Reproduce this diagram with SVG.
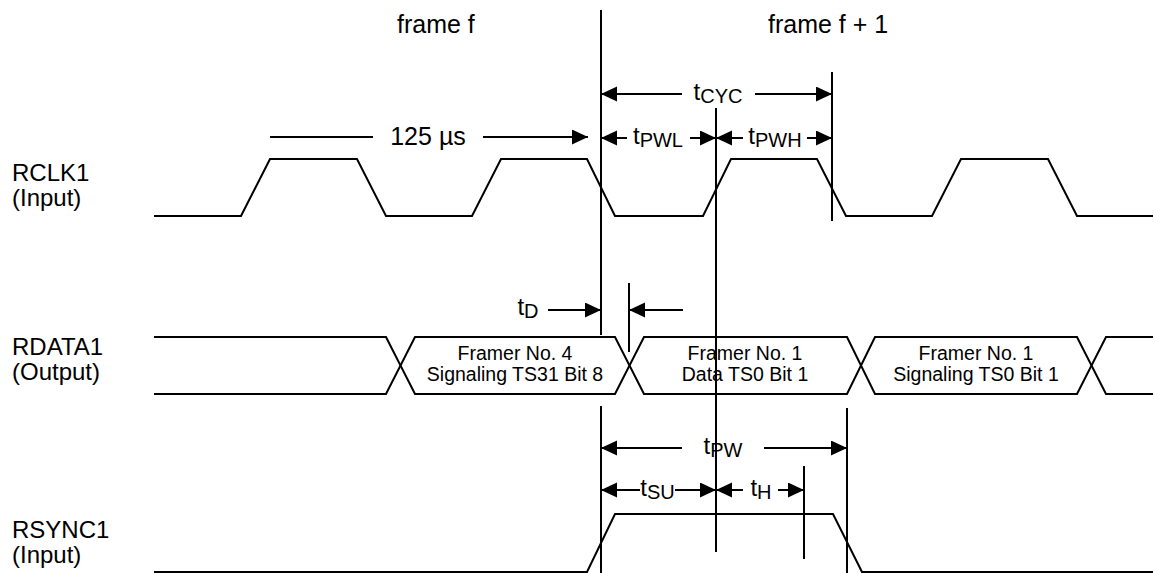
<svg xmlns="http://www.w3.org/2000/svg" width="1155" height="573" viewBox="0 0 1155 573">
<style>
text{font-family:"Liberation Sans",Arial,Helvetica,sans-serif;fill:#000}
.lbl{font-size:24px}
.hdr{font-size:25px}
.box{font-size:19.5px;text-anchor:middle}
.t{font-size:24px;text-anchor:middle}
.sub{font-size:20px}
.w{fill:none;stroke:#000;stroke-width:2;stroke-linejoin:miter}
.v{stroke:#000;stroke-width:2}
.a{stroke:#000;stroke-width:2;marker-end:url(#ah)}
</style>
<defs>
<marker id="ah" markerUnits="userSpaceOnUse" markerWidth="17" markerHeight="16" refX="16" refY="7.5" orient="auto">
<path d="M0,0 L16,7.5 L0,15 Z" fill="#000"/>
</marker>
</defs>
<rect width="1155" height="573" fill="#fff"/>
<g id="header">
<text class="hdr" x="397" y="33">frame f</text>
<text class="hdr" x="768" y="33">frame f + 1</text>
</g>
<g id="rclk1">
<text class="lbl" x="12" y="181">RCLK1</text>
<text class="lbl" x="12" y="206">(Input)</text>
<path class="w" d="M154,216 L241,216 L270,159 L357,159 L386,216 L472,216 L501,159 L587,159 L615,216 L703,216 L731,159 L817,159 L846,216 L932,216 L961,159 L1048,159 L1077,216 L1153,216"/>
</g>
<g id="rdata1">
<text class="lbl" x="12" y="355">RDATA1</text>
<text class="lbl" x="12" y="380">(Output)</text>
<path class="w" d="M154,337 L386,337 L400.5,365.5 L386,394 L154,394"/>
<path class="w" d="M415,337 L615,337 L629.5,365.5 L615,394 L415,394 L400.5,365.5 Z"/>
<path class="w" d="M644,337 L847,337 L861,365.5 L847,394 L644,394 L629.5,365.5 Z"/>
<path class="w" d="M875,337 L1077,337 L1091.5,365.5 L1077,394 L875,394 L861,365.5 Z"/>
<path class="w" d="M1153,337 L1106,337 L1091.5,365.5 L1106,394 L1153,394"/>
<text class="box" x="515" y="360">Framer No. 4</text>
<text class="box" x="515" y="381">Signaling TS31 Bit 8</text>
<text class="box" x="745" y="360">Framer No. 1</text>
<text class="box" x="745" y="381">Data TS0 Bit 1</text>
<text class="box" x="976" y="360">Framer No. 1</text>
<text class="box" x="976" y="381">Signaling TS0 Bit 1</text>
</g>
<g id="rsync1">
<text class="lbl" x="12" y="538">RSYNC1</text>
<text class="lbl" x="12" y="563">(Input)</text>
<path class="w" d="M154,572 L587,572 L615,514 L833,514 L862,572 L1153,572"/>
</g>
<g id="connectors">
<line class="v" x1="601" y1="10" x2="601" y2="335"/>
<line class="v" x1="601" y1="406" x2="601" y2="573"/>
<line class="v" x1="716" y1="108" x2="716" y2="552"/>
<line class="v" x1="832" y1="72" x2="832" y2="221"/>
<line class="v" x1="629" y1="283" x2="629" y2="352"/>
<line class="v" x1="847" y1="408" x2="847" y2="573"/>
<line class="v" x1="804" y1="466" x2="804" y2="559"/>
<line class="a" x1="682" y1="94" x2="601" y2="94"/>
<line class="a" x1="755" y1="94" x2="832" y2="94"/>
<line class="v" x1="270" y1="137" x2="373" y2="137"/>
<line class="a" x1="483" y1="137" x2="588" y2="137"/>
<line class="a" x1="627" y1="138" x2="601" y2="138"/>
<line class="a" x1="690" y1="138" x2="716" y2="138"/>
<line class="a" x1="743" y1="138" x2="716" y2="138"/>
<line class="a" x1="807" y1="138" x2="832" y2="138"/>
<line class="a" x1="548" y1="310" x2="601" y2="310"/>
<line class="a" x1="683" y1="310" x2="629" y2="310"/>
<line class="a" x1="682" y1="448" x2="601" y2="448"/>
<line class="a" x1="764" y1="448" x2="847" y2="448"/>
<line class="a" x1="640" y1="490" x2="601" y2="490"/>
<line class="a" x1="675" y1="490" x2="716" y2="490"/>
<line class="a" x1="743" y1="490" x2="716" y2="490"/>
<line class="a" x1="778" y1="490" x2="804" y2="490"/>
</g>
<g id="timing-labels">
<text class="hdr" x="428" y="145" text-anchor="middle">125 µs</text>
<text class="t" x="718" y="100">t<tspan class="sub" dy="3">CYC</tspan></text>
<text class="t" x="658" y="144">t<tspan class="sub" dy="3">PWL</tspan></text>
<text class="t" x="775" y="144">t<tspan class="sub" dy="3">PWH</tspan></text>
<text class="t" x="528" y="315">t<tspan class="sub" dy="3">D</tspan></text>
<text class="t" x="723" y="454">t<tspan class="sub" dy="3">PW</tspan></text>
<text class="t" x="657.5" y="496">t<tspan class="sub" dy="3">SU</tspan></text>
<text class="t" x="761" y="496">t<tspan class="sub" dy="3">H</tspan></text>
</g>
</svg>
